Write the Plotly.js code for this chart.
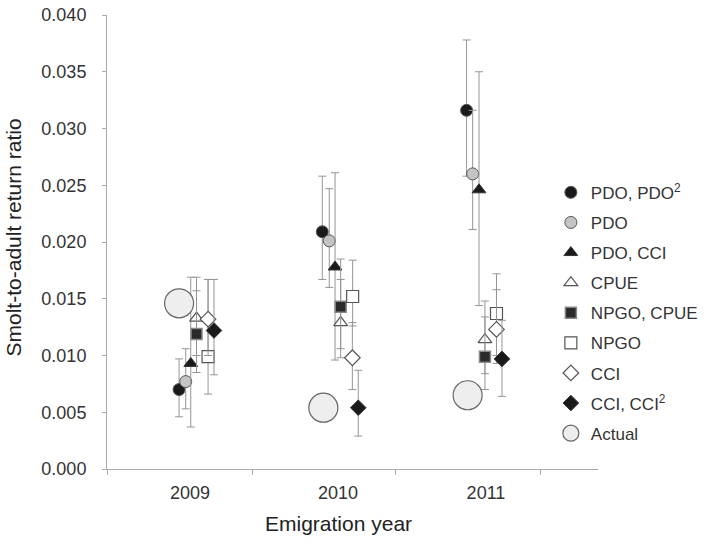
<!DOCTYPE html>
<html>
<head>
<meta charset="utf-8">
<script src="https://cdn.plot.ly/plotly-3.0.1.min.js"></script>
<style>
  html, body { margin: 0; padding: 0; background: #fff; }
  #chart { width: 704px; height: 545px; }
</style>
</head>
<body>
<div id="chart"></div>
<script>
const years = [2009, 2010, 2011];

// model names as shown in the legend
const seriesNames = [
    'PDO, PDO<sup>2</sup>',
    'PDO',
    'PDO, CCI',
    'CPUE',
    'NPGO, CPUE',
    'NPGO',
    'CCI',
    'CCI, CCI<sup>2</sup>',
];

// predicted smolt-to-adult return ratio per model (2009, 2010, 2011)
const predicted = [
    [0.0070, 0.0209, 0.0316],
    [0.0077, 0.0201, 0.0260],
    [0.0093, 0.0178, 0.0246],
    [0.0133, 0.0129, 0.0114],
    [0.0119, 0.0143, 0.0099],
    [0.0099, 0.0152, 0.0137],
    [0.0132, 0.0098, 0.0123],
    [0.0122, 0.0054, 0.0097],
];

// lower and upper ends of the error bars
const lower = [
    [0.0046, 0.0167, 0.0258],
    [0.0053, 0.0160, 0.0211],
    [0.0037, 0.0096, 0.0144],
    [0.0100, 0.0106, 0.0084],
    [0.0085, 0.0098, 0.0070],
    [0.0066, 0.0126, 0.0093],
    [0.0100, 0.0070, 0.0100],
    [0.0083, 0.0029, 0.0064],
];
const upper = [
    [0.0097, 0.0258, 0.0378],
    [0.0106, 0.0247, 0.0316],
    [0.0169, 0.0261, 0.0350],
    [0.0157, 0.0167, 0.0134],
    [0.0169, 0.0185, 0.0148],
    [0.0167, 0.0184, 0.0172],
    [0.0167, 0.0129, 0.0158],
    [0.0167, 0.0087, 0.0131],
];

// observed return ratio
const actual = [0.0146, 0.0054, 0.0065];

// horizontal spread of the markers around each year (in years)
const spread = [
    [-0.074, -0.106, -0.131],
    [-0.029, -0.059, -0.090],
    [0.005, -0.020, -0.047],
    [0.044, 0.018, -0.007],
    [0.044, 0.018, -0.007],
    [0.122, 0.099, 0.071],
    [0.122, 0.097, 0.071],
    [0.162, 0.137, 0.108],
];
const actualSpread = [-0.074, -0.099, -0.124];

const markerStyles = [
    { symbol: 'circle', size: 12, color: '#1a1a1a', line: { color: '#555', width: 1 } },
    { symbol: 'circle', size: 12, color: '#c4c4c4', line: { color: '#555', width: 1 } },
    { symbol: 'triangle-up', size: 12, color: '#1a1a1a', line: { color: '#333', width: 1 } },
    { symbol: 'triangle-up', size: 12, color: '#ffffff', line: { color: '#555', width: 1.2 } },
    { symbol: 'square', size: 11, color: '#2a2a2a', line: { color: '#888', width: 1.5 } },
    { symbol: 'square', size: 12, color: '#ffffff', line: { color: '#555', width: 1.2 } },
    { symbol: 'diamond', size: 12, color: '#ffffff', line: { color: '#555', width: 1.2 } },
    { symbol: 'diamond', size: 12, color: '#1a1a1a', line: { color: '#333', width: 1 } },
];

const traces = seriesNames.map((name, i) => ({
    type: 'scatter',
    mode: 'markers',
    name: name,
    legendgroup: 'g' + i,
    x: years.map((year, j) => year + spread[i][j]),
    y: predicted[i],
    marker: markerStyles[i],
    error_y: {
        type: 'data',
        symmetric: false,
        array: predicted[i].map((v, j) => upper[i][j] - v),
        arrayminus: predicted[i].map((v, j) => v - lower[i][j]),
        color: '#959595',
        thickness: 1,
        width: 4,
    },
}));

traces.push({
    type: 'scatter',
    mode: 'markers',
    name: 'Actual',
    legendgroup: 'actual',
    x: years.map((year, j) => year + actualSpread[j]),
    y: actual,
    marker: { symbol: 'circle', size: 29, color: '#eeeeee', line: { color: '#666', width: 1.2 } },
});

const layout = {
    width: 704,
    height: 545,
    margin: { l: 107, r: 106, t: 15, b: 76, autoexpand: false },
    paper_bgcolor: '#fff',
    plot_bgcolor: '#fff',
    font: { family: '"Liberation Sans", Arial, sans-serif', color: '#333', size: 18 },
    showlegend: true,
    legend: {
        x: 0.904,
        y: 0.648,
        xanchor: 'left',
        yanchor: 'top',
        traceorder: 'grouped',
        tracegroupgap: 5,
        font: { size: 17, color: '#333' },
        bgcolor: 'rgba(0,0,0,0)',
    },
    xaxis: {
        range: [2008.439, 2011.757],
        tickmode: 'array',
        tickvals: years,
        ticktext: years.map(String),
        ticks: '',
        ticklabelstandoff: 7,
        tickfont: { size: 18, color: '#333' },
        showline: true,
        linecolor: '#aaa',
        linewidth: 1,
        showgrid: false,
        zeroline: false,
        minor: {
            tickmode: 'array',
            tickvals: [2008.439, 2009.42, 2010.39, 2011.37],
            ticks: 'outside',
            ticklen: 5,
            tickcolor: '#aaa',
            showgrid: false,
        },
    },
    yaxis: {
        range: [0, 0.04],
        dtick: 0.005,
        tick0: 0,
        tickformat: '.3f',
        ticks: 'outside',
        ticklen: 4,
        tickcolor: '#aaa',
        ticklabelstandoff: 12,
        tickfont: { size: 18, color: '#333' },
        showline: true,
        linecolor: '#aaa',
        linewidth: 1,
        showgrid: false,
        zeroline: false,
    },
    annotations: [
        {
            text: 'Emigration year',
            xref: 'x',
            yref: 'paper',
            x: 2010,
            y: -0.119,
            xanchor: 'center',
            yanchor: 'middle',
            showarrow: false,
            font: { size: 21, color: '#222' },
        },
        {
            text: 'Smolt-to-adult return ratio',
            xref: 'paper',
            yref: 'paper',
            x: -0.1914,
            y: 0.51,
            xanchor: 'center',
            yanchor: 'middle',
            textangle: -90,
            showarrow: false,
            font: { size: 21, color: '#222' },
        },
    ],
};

Plotly.newPlot('chart', traces, layout, { displayModeBar: false, staticPlot: true });
</script>
</body>
</html>
